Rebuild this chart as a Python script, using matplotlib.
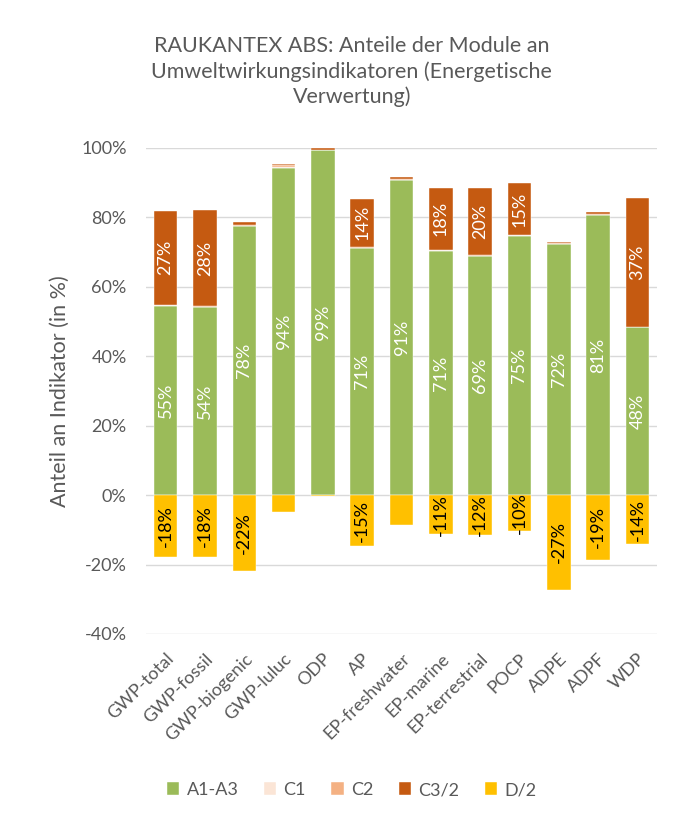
import matplotlib
matplotlib.use("Agg")
import matplotlib.pyplot as plt
import numpy as np

categories = ["GWP-total", "GWP-fossil", "GWP-biogenic", "GWP-luluc", "ODP", "AP",
              "EP-freshwater", "EP-marine", "EP-terrestrial", "POCP", "ADPE", "ADPF", "WDP"]
a1a3 = [54.6, 54.2, 77.5, 94.3, 99.3, 71.2, 90.8, 70.4, 68.8, 74.7, 72.2, 80.6, 48.3]
c1 = [0.1, 0.1, 0.1, 0.1, 0.05, 0.1, 0.1, 0.1, 0.1, 0.1, 0.1, 0.1, 0.05]
c2 = [0.2, 0.2, 0.3, 0.7, 0.1, 0.3, 0.3, 0.2, 0.2, 0.2, 0.3, 0.3, 0.1]
c3 = [27.0, 27.6, 0.7, 0.3, 0.6, 13.8, 0.3, 17.8, 19.5, 14.8, 0.4, 0.6, 37.2]
d2 = [-17.8, -17.8, -21.8, -4.9, -0.3, -14.7, -8.6, -11.3, -11.6, -10.2, -27.2, -18.6, -14.2]

a_labels = ["55%", "54%", "78%", "94%", "99%", "71%", "91%", "71%", "69%", "75%", "72%", "81%", "48%"]
c3_labels = ["27%", "28%", "", "", "", "14%", "", "18%", "20%", "15%", "", "", "37%"]
d_labels = ["-18%", "-18%", "-22%", "", "", "-15%", "", "-11%", "-12%", "-10%", "-27%", "-19%", "-14%"]

series_names = ["A1-A3", "C1", "C2", "C3/2", "D/2"]
colors = ["#9BBB59", "#FBE5D6", "#F4B183", "#C55A11", "#FFC000"]

plt.rcParams['font.family'] = ['Lato', 'DejaVu Sans']
fig = plt.figure(figsize=(6.83, 8.23), dpi=100)
ax = fig.add_axes([0.2138, 0.2297, 0.7482, 0.5905])

x = np.arange(len(categories))
w = 0.6
text_col = "#595959"
lab_fs = 13

bottom = np.zeros(len(categories))
handles = []
for vals, name, col in zip([a1a3, c1, c2, c3], series_names[:4], colors[:4]):
    b = ax.bar(x, vals, w, bottom=bottom, color=col, edgecolor="white", linewidth=0.3, label=name, zorder=3)
    handles.append(b)
    if name == "A1-A3":
        for xi, v, bt, lab in zip(x, vals, bottom, a_labels):
            if lab:
                ax.text(xi, bt + v / 2, lab, rotation=90, ha="center", va="center", color="white", fontsize=lab_fs, zorder=4)
    if name == "C3/2":
        for xi, v, bt, lab in zip(x, vals, bottom, c3_labels):
            if lab:
                ax.text(xi, bt + v / 2, lab, rotation=90, ha="center", va="center", color="white", fontsize=lab_fs, zorder=4)
    bottom = bottom + np.array(vals)

b = ax.bar(x, d2, w, color=colors[4], edgecolor="white", linewidth=0.3, label="D/2", zorder=3)
handles.append(b)
for xi, v, lab in zip(x, d2, d_labels):
    if lab:
        ax.text(xi, v / 2, lab, rotation=90, ha="center", va="center", color="black", fontsize=lab_fs, zorder=4)

ax.set_ylim(-40, 100)
ax.set_xlim(-0.5, len(categories) - 0.5)
yt = np.arange(-40, 101, 20)
ax.set_yticks(yt)
ax.set_yticklabels([f"{v}%" for v in yt], fontsize=13, color=text_col)
ax.set_xticks(x)
ax.set_xticklabels(categories, rotation=45, ha="right", rotation_mode="anchor", fontsize=13, color=text_col)
ax.tick_params(axis="y", length=0, pad=14)
ax.tick_params(axis="x", length=0, pad=12)
ax.grid(axis="y", color="#D9D9D9", linewidth=1, zorder=0)
for s in ax.spines.values():
    s.set_visible(False)
ax.set_ylabel("Anteil an Indikator (in %)", fontsize=15.5, color=text_col)
ax.yaxis.set_label_coords(-76 / 511, 0.5)

fig.suptitle("RAUKANTEX ABS: Anteile der Module an\nUmweltwirkungsindikatoren (Energetische\nVerwertung)",
             fontsize=15.5, color=text_col, y=0.956, x=0.515, linespacing=1.3, va="top")

fig.legend(handles=handles, labels=series_names, loc="center", bbox_to_anchor=(0.515, 0.04), ncol=5,
           frameon=False, fontsize=13, handlelength=0.7, handleheight=0.7, handletextpad=0.4,
           columnspacing=1.4, labelcolor=text_col)

fig.savefig("out.png", dpi=100)
